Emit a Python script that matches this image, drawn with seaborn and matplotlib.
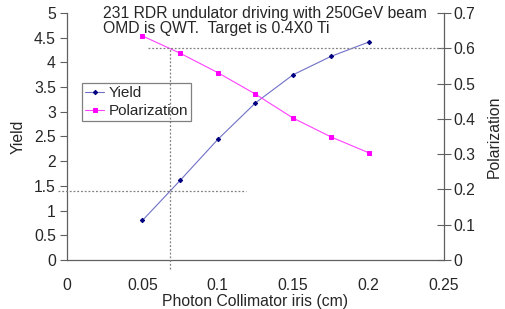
import matplotlib
matplotlib.use("Agg")
import matplotlib.pyplot as plt
import seaborn as sns
import pandas as pd

iris_cm = [0.05, 0.075, 0.1, 0.125, 0.15, 0.175, 0.2]
yield_vals = [0.80, 1.61, 2.44, 3.18, 3.75, 4.12, 4.41]
polarization_vals = [0.635, 0.586, 0.531, 0.470, 0.402, 0.349, 0.304]

title_lines = ["231 RDR undulator driving with 250GeV beam",
               "OMD is QWT.  Target is 0.4X0 Ti"]
x_ticks = [0, 0.05, 0.1, 0.15, 0.2, 0.25]
x_ticklabels = ["0", "0.05", "0.1", "0.15", "0.2", "0.25"]
y_ticks = [0, 0.5, 1, 1.5, 2, 2.5, 3, 3.5, 4, 4.5, 5]
y_ticklabels = ["0", "0.5", "1", "1.5", "2", "2.5", "3", "3.5", "4", "4.5", "5"]
p_ticks = [0, 0.1, 0.2, 0.3, 0.4, 0.5, 0.6, 0.7]
p_ticklabels = ["0", "0.1", "0.2", "0.3", "0.4", "0.5", "0.6", "0.7"]

# reference guide lines
guide_x = 0.068
guide_yield = 1.40
guide_pol = 0.60

df = pd.DataFrame({"iris": iris_cm, "Yield": yield_vals, "Polarization": polarization_vals})

sns.set_style("white")
plt.rcParams["font.family"] = ["Liberation Sans", "DejaVu Sans"]
FS = 11.3

fig = plt.figure(figsize=(5.05, 3.09), dpi=100)
ax = fig.add_axes([0.1327, 0.1586, 0.879 - 0.1327, 0.958 - 0.1586])
ax2 = ax.twinx()

sns.lineplot(data=df, x="iris", y="Yield", ax=ax, color="#7070c8", linewidth=0.8,
             marker="D", markersize=2.2, markerfacecolor="#000080", markeredgecolor="#000080",
             label="Yield", legend=False)
sns.lineplot(data=df, x="iris", y="Polarization", ax=ax2, color="#ff40ff", linewidth=0.8,
             marker="s", markersize=2.4, markerfacecolor="#ff00ff", markeredgecolor="#ff00ff",
             label="Polarization", legend=False)

ax.set_xlim(0, 0.25)
ax.set_ylim(0, 5)
ax2.set_ylim(0, 0.7)

# dotted guides
ax.plot([guide_x, guide_x], [-0.18, 4.28], ls=(0, (1.5, 1.5)), color="#808080", lw=0.9, clip_on=False, zorder=5)
ax.plot([-0.006, 0.119], [guide_yield, guide_yield], ls=(0, (1.5, 1.5)), color="#808080", lw=0.9, clip_on=False, zorder=5)
ax2.plot([0.0535, 0.25], [guide_pol, guide_pol], ls=(0, (1.5, 1.5)), color="#808080", lw=0.9, clip_on=False, zorder=5)

ax.set_xticks(x_ticks)
ax.set_xticklabels(x_ticklabels)
ax.set_yticks(y_ticks)
ax.set_yticklabels(y_ticklabels)
ax2.set_yticks(p_ticks)
ax2.set_yticklabels(p_ticklabels)

for a in (ax, ax2):
    a.spines["top"].set_visible(False)
    for s in a.spines.values():
        s.set_color("#606060")
        s.set_linewidth(0.9)
ax.spines["right"].set_visible(False)
ax2.spines["left"].set_visible(False)
ax2.spines["bottom"].set_visible(False)

ax.tick_params(axis="both", direction="out", length=5, width=0.8, color="#606060", labelsize=FS, pad=3)
ax.tick_params(axis="x", pad=8)
ax2.tick_params(axis="y", direction="inout", length=10, width=0.8, color="#606060", labelsize=FS, pad=2)

ax.set_xlabel("Photon Collimator iris (cm)", fontsize=FS, labelpad=1)
ax.set_ylabel("Yield", fontsize=FS, labelpad=6)
ax2.set_ylabel("Polarization", fontsize=FS, labelpad=8)

ax.text(0.024, 5.14, title_lines[0] + "\n" + title_lines[1], fontsize=FS,
        ha="left", va="top", linespacing=1.0, zorder=6)

h1, l1 = ax.get_legend_handles_labels()
h2, l2 = ax2.get_legend_handles_labels()
leg = ax2.legend(h1 + h2, l1 + l2, loc="upper left", bbox_to_anchor=(0.04, 0.715),
                 frameon=True, fancybox=False, facecolor="none", edgecolor="#606060",
                 fontsize=11, handlelength=1.25, handletextpad=0.3, borderpad=0.2,
                 labelspacing=0.25, borderaxespad=0)
leg.get_frame().set_linewidth(0.9)

fig.savefig("out.png", dpi=100)
